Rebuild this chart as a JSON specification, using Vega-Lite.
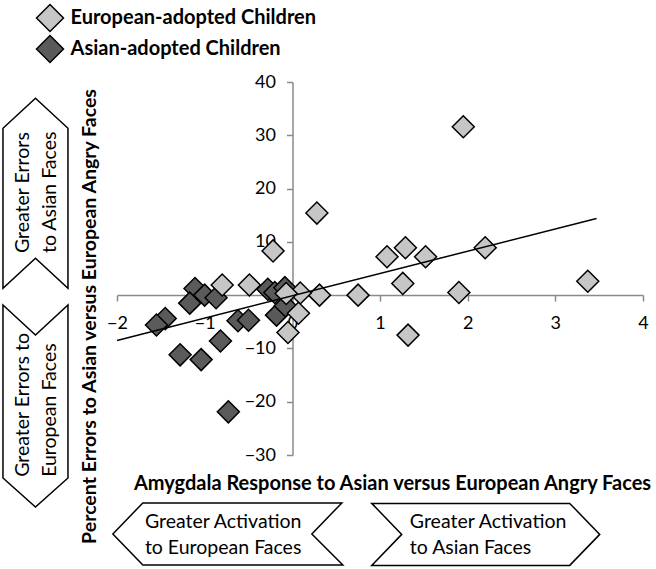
{
  "$schema": "https://vega.github.io/schema/vega-lite/v6.json",
  "width": 526,
  "height": 373,
  "autosize": "none",
  "padding": {"left": 117, "top": 82, "right": 13, "bottom": 114},
  "background": "white",
  "config": {
    "view": {"stroke": null},
    "font": "Lato",
    "text": {"font": "Lato"}
  },
  "datasets": {
    "points": [
      {"ax": -1.11, "ay": 1.25, "group": "Asian-adopted Children"},
      {"ax": -1.0, "ay": 0.0, "group": "Asian-adopted Children"},
      {"ax": -1.17, "ay": -1.5, "group": "Asian-adopted Children"},
      {"ax": -0.87, "ay": -0.5, "group": "Asian-adopted Children"},
      {"ax": -0.28, "ay": 1.1, "group": "Asian-adopted Children"},
      {"ax": -0.2, "ay": 0.5, "group": "Asian-adopted Children"},
      {"ax": -0.085, "ay": 1.4, "group": "Asian-adopted Children"},
      {"ax": -1.45, "ay": -4.4, "group": "Asian-adopted Children"},
      {"ax": -1.55, "ay": -5.6, "group": "Asian-adopted Children"},
      {"ax": -0.62, "ay": -4.8, "group": "Asian-adopted Children"},
      {"ax": -0.5, "ay": -4.7, "group": "Asian-adopted Children"},
      {"ax": -0.18, "ay": -3.75, "group": "Asian-adopted Children"},
      {"ax": -0.08, "ay": -2.0, "group": "Asian-adopted Children"},
      {"ax": -0.82, "ay": -8.6, "group": "Asian-adopted Children"},
      {"ax": -1.28, "ay": -11.2, "group": "Asian-adopted Children"},
      {"ax": -1.04, "ay": -12.1, "group": "Asian-adopted Children"},
      {"ax": -0.73, "ay": -21.9, "group": "Asian-adopted Children"},
      {"ax": 1.95, "ay": 31.6, "group": "European-adopted Children"},
      {"ax": 0.28, "ay": 15.4, "group": "European-adopted Children"},
      {"ax": -0.22, "ay": 8.3, "group": "European-adopted Children"},
      {"ax": 1.08, "ay": 7.2, "group": "European-adopted Children"},
      {"ax": 1.29, "ay": 8.9, "group": "European-adopted Children"},
      {"ax": 1.52, "ay": 7.2, "group": "European-adopted Children"},
      {"ax": 2.2, "ay": 8.9, "group": "European-adopted Children"},
      {"ax": 1.26, "ay": 2.2, "group": "European-adopted Children"},
      {"ax": 1.9, "ay": 0.5, "group": "European-adopted Children"},
      {"ax": 3.37, "ay": 2.6, "group": "European-adopted Children"},
      {"ax": 0.75, "ay": 0.0, "group": "European-adopted Children"},
      {"ax": 0.31, "ay": 0.0, "group": "European-adopted Children"},
      {"ax": 0.09, "ay": 0.4, "group": "European-adopted Children"},
      {"ax": -0.07, "ay": 0.3, "group": "European-adopted Children"},
      {"ax": 0.07, "ay": -3.4, "group": "European-adopted Children"},
      {"ax": -0.05, "ay": -7.0, "group": "European-adopted Children"},
      {"ax": 1.32, "ay": -7.5, "group": "European-adopted Children"},
      {"ax": -0.8, "ay": 1.9, "group": "European-adopted Children"},
      {"ax": -0.49, "ay": 1.9, "group": "European-adopted Children"}
    ],
    "trend": [
      {"ax": -2.0, "ay": -8.5},
      {"ax": 3.47, "ay": 14.4}
    ],
    "boxes": [
      {"bx": -0.7355, "by": -44.81, "dir": "left"},
      {"bx": 2.206, "by": -44.9, "dir": "right"},
      {"bx": -2.93, "by": 19.13, "dir": "up"},
      {"bx": -2.93, "by": -20.81, "dir": "down"}
    ],
    "htext": [
      {"tx": -1.682, "ty": -42.56, "label": "Greater Activation\nto European Faces"},
      {"tx": 1.34, "ty": -42.56, "label": "Greater Activation\nto Asian Faces"}
    ],
    "vtext": [
      {"tx": -3.073, "ty": 7.9, "label": "Greater Errors\nto Asian Faces"},
      {"tx": -3.073, "ty": -34.1, "label": "Greater Errors to\nEuropean Faces"}
    ]
  },
  "layer": [
    {
      "data": {"name": "boxes"},
      "mark": {"type": "point", "filled": true, "fill": "white", "stroke": "black", "strokeWidth": 1.5, "size": 4, "opacity": 1},
      "encoding": {
        "x": {"field": "bx", "type": "quantitative", "scale": {"domain": [-2, 4], "nice": false, "zero": false},
          "axis": {
            "title": "Amygdala Response to Asian versus European Angry Faces",
            "offset": -160,
            "values": [-2, -1, 0, 1, 2, 3, 4],
            "format": "d",
            "grid": false,
            "domainColor": "#8a8a8a", "domainWidth": 1.5,
            "tickColor": "#8a8a8a", "tickWidth": 1.5, "tickSize": 6,
            "labelFont": "Lato", "labelFontSize": 18, "labelColor": "black", "labelPadding": 13,
            "labelFlush": false, "labelOverlap": false,
            "titleFont": "Lato", "titleFontSize": 20, "titleFontWeight": "bold", "titleColor": "black",
            "titleX": 275, "titleY": 188, "titleAlign": "center", "titleBaseline": "middle"
          }
        },
        "y": {"field": "by", "type": "quantitative", "scale": {"domain": [-30, 40], "nice": false, "zero": false},
          "axis": {
            "title": "Percent Errors to Asian versus European Angry Faces",
            "offset": -175.5,
            "values": [-30, -20, -10, 0, 10, 20, 30, 40],
            "format": "d",
            "grid": false,
            "domainColor": "#8a8a8a", "domainWidth": 1.5,
            "tickColor": "#8a8a8a", "tickWidth": 1.5, "tickSize": 6,
            "labelFont": "Lato", "labelFontSize": 18, "labelColor": "black", "labelPadding": 11,
            "labelFlush": false, "labelOverlap": false,
            "titleFont": "Lato", "titleFontSize": 19.5, "titleFontWeight": "bold", "titleColor": "black",
            "titleX": -203.5, "titleY": 234, "titleAngle": 270, "titleAlign": "center", "titleBaseline": "middle"
          }
        },
        "shape": {"field": "dir", "type": "nominal", "legend": null,
          "scale": {"domain": ["left", "right", "up", "down"],
            "range": [
              "M-115,0L-85,-31L114,-31L84,0L115,31L-85,31Z",
              "M-114,-31L84,-31L114,0L84,31L-114,31L-84,0Z",
              "M0,-95L32.5,-65L32.5,95L0,65L-32.5,95L-32.5,-65Z",
              "M-32.5,-101L0,-71L32.5,-101L32.5,72L0,101L-32.5,72Z"
            ]}
        }
      }
    },
    {
      "data": {"name": "htext"},
      "mark": {"type": "text", "font": "Lato", "fontSize": 19.5, "color": "black", "align": "left", "baseline": "middle", "lineBreak": "\n", "lineHeight": 26},
      "encoding": {
        "x": {"field": "tx", "type": "quantitative"},
        "y": {"field": "ty", "type": "quantitative"},
        "text": {"field": "label"}
      }
    },
    {
      "data": {"name": "vtext"},
      "mark": {"type": "text", "font": "Lato", "fontSize": 19.5, "color": "black", "align": "left", "baseline": "middle", "angle": 270, "lineBreak": "\n", "lineHeight": 27},
      "encoding": {
        "x": {"field": "tx", "type": "quantitative"},
        "y": {"field": "ty", "type": "quantitative"},
        "text": {"field": "label"}
      }
    },
    {
      "data": {"name": "points"},
      "mark": {"type": "point", "shape": "diamond", "filled": true, "size": 484, "stroke": "black", "strokeWidth": 1.5, "opacity": 1},
      "encoding": {
        "x": {"field": "ax", "type": "quantitative"},
        "y": {"field": "ay", "type": "quantitative"},
        "color": {"field": "group", "type": "nominal",
          "scale": {"domain": ["European-adopted Children", "Asian-adopted Children"], "range": ["#c6c6c6", "#5a5a5a"]},
          "legend": {
            "title": null, "orient": "none", "legendX": -81.5, "legendY": -78.5, "padding": 0,
            "symbolType": "diamond", "symbolSize": 729, "symbolStrokeColor": "black", "symbolStrokeWidth": 1.5, "symbolOpacity": 1,
            "rowPadding": -2, "labelOffset": 6,
            "labelFont": "Lato", "labelFontSize": 20, "labelFontWeight": "bold", "labelColor": "black", "labelLimit": 400
          }
        }
      }
    },
    {
      "data": {"name": "trend"},
      "mark": {"type": "line", "color": "black", "strokeWidth": 1.5},
      "encoding": {
        "x": {"field": "ax", "type": "quantitative"},
        "y": {"field": "ay", "type": "quantitative"}
      }
    }
  ]
}
